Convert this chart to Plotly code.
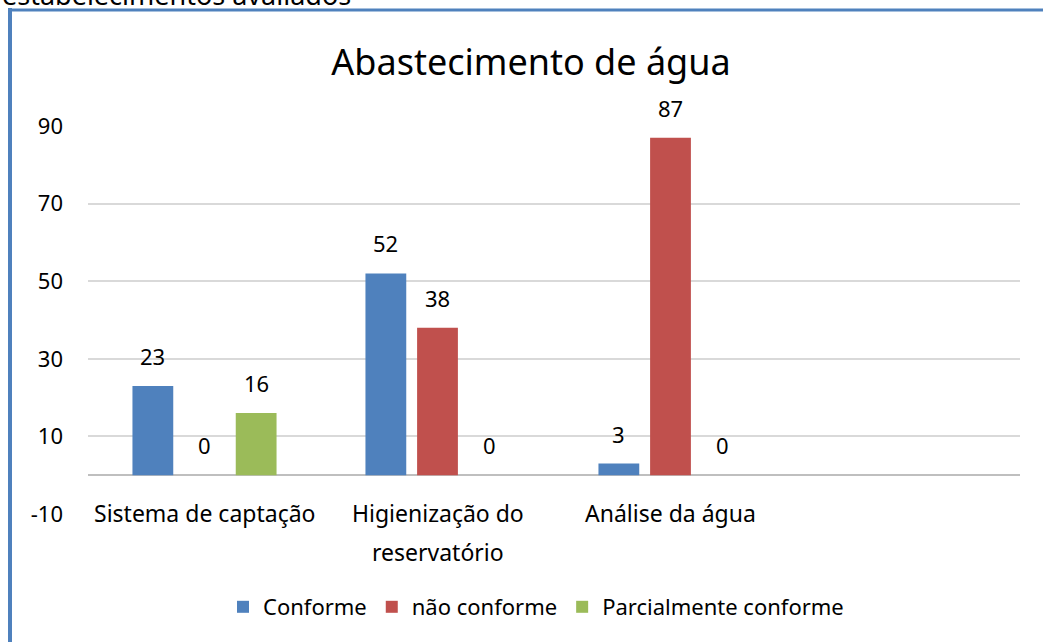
import plotly.graph_objects as go

categories = ["Sistema de captação", "Higienização do<br>reservatório", "Análise da água"]
all_categories = categories + [" "]
series_names = ["Conforme", "não conforme", "Parcialmente conforme"]
conforme = [23, 52, 3]
nao_conforme = [0, 38, 87]
parcial = [16, 0, 0]
series_values = [conforme, nao_conforme, parcial]
colors = ["#4F81BD", "#C0504D", "#9BBB59"]
y_ticks = [-10, 10, 30, 50, 70, 90]

W, H = 1043, 642
L, R, T, B = 88, 23, 126, 128
pw, ph = W - L - R, H - T - B
FONT = "Noto Sans"

fig = go.Figure()
for name, vals, col in zip(series_names, series_values, colors):
    fig.add_trace(go.Bar(name=name, x=categories, y=vals, marker=dict(color=col, line=dict(width=0))))

annotations = []
slot = pw / 4 * (1 - 0.335) / 3
for i, vals in enumerate(series_values):
    for c, v in zip(categories, vals):
        annotations.append(dict(x=c, y=v, xref="x", yref="y", text=str(v), showarrow=False,
                                xshift=(i - 1) * slot, yshift=30, yanchor="middle",
                                font=dict(size=22, color="#000000", family=FONT)))
for c in categories:
    for k, line in enumerate(c.split("<br>")):
        annotations.append(dict(x=c, y=0, xref="x", yref="y", text=line, showarrow=False,
                                yanchor="middle", yshift=-(514 - 476) - 39 * k,
                                font=dict(size=23, color="#000000", family=FONT)))
annotations.append(dict(x=-L / pw, y=1 + T / ph, xref="paper", yref="paper", xanchor="left",
                        yanchor="bottom", yshift=-15, text="estabelecimentos avaliados",
                        showarrow=False, font=dict(size=27, color="#000000", family=FONT)))

fig.update_layout(
    width=W, height=H,
    margin=dict(l=L, r=R, t=T, b=B, pad=0),
    paper_bgcolor="white", plot_bgcolor="white",
    barmode="group", bargap=0.335, bargroupgap=0.21,
    title=dict(text="Abastecimento de água", x=531 / W, xanchor="center",
               y=1 - 62 / H, yanchor="middle", yref="container",
               font=dict(size=36, color="#000000", family=FONT)),
    font=dict(family=FONT, size=22, color="#000000"),
    xaxis=dict(type="category", categoryorder="array", categoryarray=all_categories,
               range=[-0.5, 3.5], showticklabels=False, showgrid=False, zeroline=False,
               showline=False, ticks=""),
    yaxis=dict(range=[-10, 90], tickvals=y_ticks, ticktext=[str(v) for v in y_ticks],
               showgrid=True, gridcolor="#D9D9D9",
               gridwidth=1.5, zeroline=True, zerolinecolor="#BFBFBF", zerolinewidth=2,
               showline=False, ticks="", ticklabelstandoff=24,
               tickfont=dict(size=22, color="#000000", family=FONT)),
    legend=dict(orientation="h", x=(536 - L) / pw, xanchor="center", y=-(607 - 514) / ph,
                yanchor="middle", font=dict(size=22, color="#000000", family=FONT),
                itemsizing="constant"),
    annotations=annotations,
    shapes=[
        dict(type="line", xref="paper", yref="paper", x0=(10 - L) / pw, x1=(10 - L) / pw,
             y0=1 + (T - 8) / ph, y1=-B / ph - 0.01, line=dict(color="#4F81BD", width=4)),
        dict(type="line", xref="paper", yref="paper", x0=(8 - L) / pw, x1=1 + R / pw + 0.01,
             y0=1 + (T - 10) / ph, y1=1 + (T - 10) / ph, line=dict(color="#4F81BD", width=3)),
    ],
)

fig.write_html("out.html", config={"displayModeBar": False},
               post_script="document.body.style.margin='0';")
